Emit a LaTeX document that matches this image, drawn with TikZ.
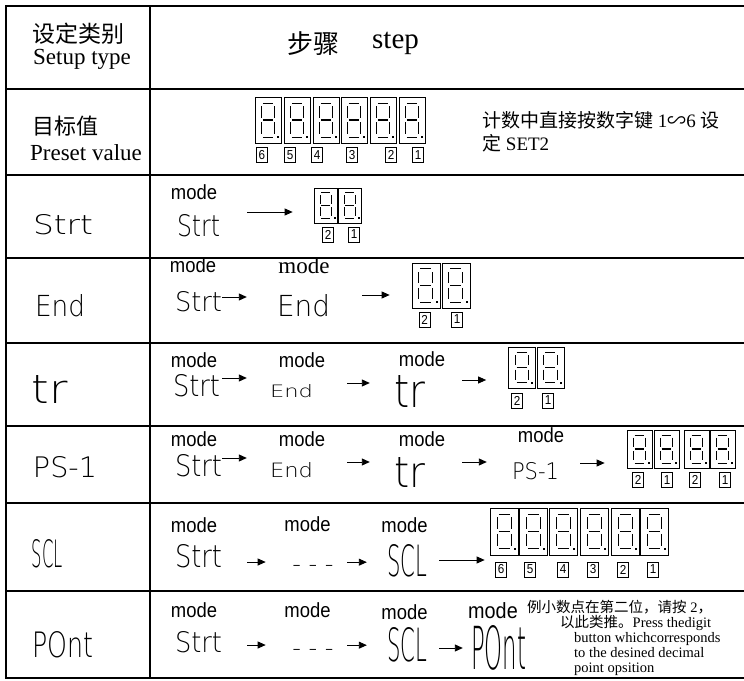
\documentclass[tikz,border=0pt]{standalone}
\usepackage{fontspec}
\usepackage{graphicx}
\setmainfont{Liberation Serif}
\newfontfamily\cjk{Noto Sans CJK SC}
\newfontfamily\modefont[FakeStretch=0.9]{Liberation Sans}
\newfontfamily\lcdfont{DejaVu Sans ExtraLight}
\usetikzlibrary{arrows.meta}
\newcommand{\segtext}[3]{\resizebox{#2pt}{#3pt}{\lcdfont #1}}
\tikzset{
    every node/.style={inner sep=0pt},
    tabline/.style={line width=2pt},
    arr/.style={-{Triangle[length=8pt,width=7pt]}, line width=0.9pt},
    modetext/.style={font=\modefont\fontsize{20.5}{22}\selectfont},
    numbox/.style={draw, line width=0.6pt, minimum width=11pt, minimum height=15pt,
    	font=\modefont\fontsize{13}{14}\selectfont},
    dots/.style={anchor=base, font=\lcdfont\fontsize{24}{26}\selectfont},
    note/.style={anchor=base west, font=\fontsize{14.5}{15}\selectfont},
    digit frame/.style={draw, line width=0.7pt},
    seg/.style={line width=0.8pt},
    pics/segdigit/.style 2 args={code={
    	\node[digit frame, minimum width=#1pt, minimum height=#2pt] (-f) {};
    	\draw[seg] ({-0.2*#1},{-0.37*#2}) -- ({0.18*#1},{-0.37*#2});
    	\draw[seg] ({-0.26*#1},{-0.3*#2}) -- ({-0.26*#1},{-0.05*#2});
    	\draw[seg] ({0.24*#1},{-0.3*#2}) -- ({0.24*#1},{-0.05*#2});
    	\draw[seg, line width=1.4pt] ({-0.2*#1},0) -- ({0.18*#1},0);
    	\draw[seg] ({-0.26*#1},{0.05*#2}) -- ({-0.26*#1},{0.3*#2});
    	\draw[seg] ({0.24*#1},{0.05*#2}) -- ({0.24*#1},{0.3*#2});
    	\draw[seg] ({-0.2*#1},{0.37*#2}) -- ({0.18*#1},{0.37*#2});
    	\fill ({0.38*#1-1},{0.37*#2-1}) rectangle ++(2,2);
    }},
}

\begin{document}
\begin{tikzpicture}[x=1pt, y=-1pt]
	\useasboundingbox (0,0) rectangle (744,680);

	% table
	\draw[tabline] (6,6) rectangle (745,678);
	\draw[tabline] (150,6) -- (150,678);
	\draw[tabline] (6,89) -- (745,89);
	\draw[tabline] (6,175) -- (745,175);
	\draw[tabline] (6,258) -- (745,258);
	\draw[tabline] (6,343) -- (745,343);
	\draw[tabline] (6,426) -- (745,426);
	\draw[tabline] (6,503) -- (745,503);
	\draw[tabline] (6,591) -- (745,591);

	% header
	\node[font=\cjk\fontsize{23}{25}\selectfont] (typecn) at (78,34) {设定类别};
	\node[anchor=base, font=\fontsize{23}{25}\selectfont] (typeen) at (82,64) {Setup type};
	\node[font=\cjk\fontsize{26}{28}\selectfont] (stepcn) at (313,44) {步骤};
	\node[anchor=base west, font=\fontsize{29}{30}\selectfont] (stepen) at (372,48) {step};

	% preset value
	\node[font=\cjk\fontsize{22}{24}\selectfont] (presetcn) at (65,126) {目标值};
	\node[anchor=base, font=\fontsize{23}{24}\selectfont] (preseten) at (86,160) {Preset value};
	\pic (dig21) at (268,120) {segdigit={26}{46}};
	\pic (dig22) at (297,120) {segdigit={26}{46}};
	\pic (dig23) at (326,120) {segdigit={26}{46}};
	\pic (dig24) at (354,120) {segdigit={26}{46}};
	\pic (dig25) at (383,120) {segdigit={26}{46}};
	\pic (dig26) at (412,120) {segdigit={26}{46}};
	\node[numbox] (num21) at (262,155) {6};
	\node[numbox] (num22) at (290,155) {5};
	\node[numbox] (num23) at (317,155) {4};
	\node[numbox] (num24) at (352,155) {3};
	\node[numbox] (num25) at (391,155) {2};
	\node[numbox] (num26) at (418,155) {1};
	\node[anchor=base west, font=\fontsize{19}{21}\selectfont] (note21) at (482,127)
		{{\cjk 计数中直接按数字键} 1{\cjk ∽}6 {\cjk 设}};
	\node[anchor=base west, font=\fontsize{19}{21}\selectfont] (note22) at (482,150)
		{{\cjk 定} SET2};

	% Strt
	\node (lstrt) at (63,225) {\segtext{Strt}{60}{20}};
	\node[modetext] (m31) at (194,192.5) {mode};
	\node (s31) at (198.5,226) {\segtext{Strt}{43}{22}};
	\pic (dig31) at (326,205.5) {segdigit={23}{35}};
	\pic (dig32) at (350,205.5) {segdigit={23}{35}};
	\node[numbox] (num31) at (328,234.5) {2};
	\node[numbox] (num32) at (354,234.5) {1};
	\draw[arr, shorten <=27pt, shorten >=21.5pt] ([yshift=14pt]s31.east) -- ([yshift=14pt]s31.east -| dig31-f.west);

	% End
	\node (lend) at (60,306) {\segtext{End}{50}{22}};
	\node[modetext] (m41) at (193,265.5) {mode};
	\node[font=\fontsize{23}{24}\selectfont] (m42) at (304,265.5) {mode};
	\node (s41) at (198.5,302) {\segtext{Strt}{47}{20}};
	\node (e41) at (303.5,306) {\segtext{End}{53}{22}};
	\pic (dig41) at (426,285.5) {segdigit={28}{45}};
	\pic (dig42) at (456,285.5) {segdigit={28}{45}};
	\node[numbox] (num41) at (424.5,319.5) {2};
	\node[numbox] (num42) at (457,319.5) {1};
	\draw[arr, shorten >=30pt] ([yshift=5pt]s41.east) -- ([yshift=5pt]s41.east -| e41.west);
	\draw[arr, shorten <=32pt, shorten >=22pt] ([yshift=11pt]e41.east) -- ([yshift=11pt]e41.east -| dig41-f.west);

	% tr
	\node (ltr) at (50,389) {\segtext{tr}{36}{28}};
	\node[modetext] (m51) at (194,360.5) {mode};
	\node[modetext] (m52) at (302,360.5) {mode};
	\node[modetext] (m53) at (422,359.5) {mode};
	\node (s51) at (196.5,386) {\segtext{Strt}{47}{22}};
	\node (e51) at (291.5,391.5) {\segtext{End}{43}{13}};
	\node (t51) at (409.5,391) {\segtext{tr}{31}{32}};
	\pic (dig51) at (522,367.5) {segdigit={27}{41}};
	\pic (dig52) at (550.5,367.5) {segdigit={27}{41}};
	\node[numbox] (num51) at (517,400.5) {2};
	\node[numbox] (num52) at (548,400.5) {1};
	\draw[arr, shorten <=2pt, shorten >=23pt] ([yshift=8pt]s51.east) -- ([yshift=8pt]s51.east -| e51.west);
	\draw[arr, shorten <=34pt, shorten >=24pt] ([yshift=8.5pt]e51.east) -- ([yshift=8.5pt]e51.east -| t51.west);
	\draw[arr, shorten <=37pt, shorten >=22pt] ([yshift=11pt]t51.east) -- ([yshift=11pt]t51.east -| dig51-f.west);

	% PS-1
	\node (lps) at (65,467.5) {\segtext{PS-1}{64}{21}};
	\node[modetext] (m61) at (194,439.5) {mode};
	\node[modetext] (m62) at (302,439.5) {mode};
	\node[modetext] (m63) at (422,439.5) {mode};
	\node[modetext] (m64) at (541,435.5) {mode};
	\node (s61) at (198.5,466) {\segtext{Strt}{47}{22}};
	\node (e61) at (291.5,470.5) {\segtext{End}{43}{15}};
	\node (t61) at (409.5,472) {\segtext{tr}{31}{30}};
	\node (p61) at (535.5,471.5) {\segtext{PS-1}{47}{17}};
	\pic (dig61) at (639.5,449) {segdigit={25}{38}};
	\pic (dig62) at (666.5,449) {segdigit={25}{38}};
	\pic (dig63) at (696.5,449) {segdigit={25}{38}};
	\pic (dig64) at (722.5,449) {segdigit={25}{38}};
	\node[numbox] (num61) at (638,480) {2};
	\node[numbox] (num62) at (667,480) {1};
	\node[numbox] (num63) at (695,480) {2};
	\node[numbox] (num64) at (725,480) {1};
	\draw[arr, shorten >=23pt] ([yshift=8pt]s61.east) -- ([yshift=8pt]s61.east -| e61.west);
	\draw[arr, shorten <=34pt, shorten >=24pt] ([yshift=8.5pt]e61.east) -- ([yshift=8.5pt]e61.east -| t61.west);
	\draw[arr, shorten <=37pt, shorten >=25pt] ([yshift=10pt]t61.east) -- ([yshift=10pt]t61.east -| p61.west);
	\draw[arr, shorten <=21pt, shorten >=22pt] ([yshift=8.5pt]p61.east) -- ([yshift=8.5pt]p61.east -| dig61-f.west);

	% SCL
	\node (lscl) at (47.5,554) {\segtext{SCL}{31}{28}};
	\node[modetext] (m71) at (194,525.5) {mode};
	\node[modetext] (m72) at (307.5,524.5) {mode};
	\node[modetext] (m73) at (404.5,525.5) {mode};
	\node (s71) at (198.5,556.5) {\segtext{Strt}{47}{23}};
	\node[dots] (dots71) at (313,572.5) {- - -};
	\node (c71) at (407,561) {\segtext{SCL}{40}{32}};
	\pic (dig71) at (504.5,531.5) {segdigit={28}{47}};
	\pic (dig72) at (533.5,531.5) {segdigit={28}{47}};
	\pic (dig73) at (563.5,531.5) {segdigit={28}{47}};
	\pic (dig74) at (594.5,531.5) {segdigit={28}{47}};
	\pic (dig75) at (625.5,531.5) {segdigit={28}{47}};
	\pic (dig76) at (654.5,531.5) {segdigit={28}{47}};
	\node[numbox] (num71) at (501,569.5) {6};
	\node[numbox] (num72) at (530,569.5) {5};
	\node[numbox] (num73) at (563,569.5) {4};
	\node[numbox] (num74) at (593,569.5) {3};
	\node[numbox] (num75) at (623,569.5) {2};
	\node[numbox] (num76) at (653,569.5) {1};
	\draw[arr, shorten <=25pt, shorten >=26.5pt] ([yshift=-5.5pt]s71.east) -- ([yshift=-5.5pt]s71.east -| dots71.west);
	\draw[arr, shorten <=13.5pt, shorten >=20pt] ([yshift=6.8pt]dots71.east) -- ([yshift=6.8pt]dots71.east -| c71.west);
	\draw[arr, shorten <=12pt, shorten >=5.5pt] ([yshift=1pt]c71.east) -- ([yshift=1pt]c71.east -| dig71-f.west);

	% POnt
	\node (lpont) at (62.5,645) {\segtext{POnt}{61}{26}};
	\node[modetext] (m81) at (194,610.5) {mode};
	\node[modetext] (m82) at (307.5,610.5) {mode};
	\node[modetext] (m83) at (404.5,612.5) {mode};
	\node[font=\modefont\fontsize{22}{24}\selectfont] (m84) at (493,610.5) {mode};
	\node (s81) at (198.5,642.5) {\segtext{Strt}{47}{21}};
	\node[dots] (dots81) at (313,656.5) {- - -};
	\node (c81) at (407,645) {\segtext{SCL}{40}{34}};
	\node (o81) at (498.5,648) {\segtext{POnt}{55}{44}};
	\draw[arr, shorten <=25pt, shorten >=26.5pt] ([yshift=-2.5pt]s81.east) -- ([yshift=-2.5pt]s81.east -| dots81.west);
	\draw[arr, shorten <=13.5pt, shorten >=20pt] ([yshift=7.8pt]dots81.east) -- ([yshift=7.8pt]dots81.east -| c81.west);
	\draw[arr, shorten <=12pt, shorten >=8pt] ([yshift=-3pt]c81.east) -- ([yshift=-3pt]c81.east -| o81.west);
	\node[note] (note81) at (527,612.5) {{\cjk 例小数点在第二位，请按} 2{\cjk ，}};
	\node[note] (note82) at (560,627.5) {{\cjk 以此类推。}Press thedigit};
	\node[note] (note83) at (574,642.5) {button whichcorresponds};
	\node[note] (note84) at (574,657.5) {to the desined decimal};
	\node[note] (note85) at (574,672.5) {point opsition};
\end{tikzpicture}
\end{document}
